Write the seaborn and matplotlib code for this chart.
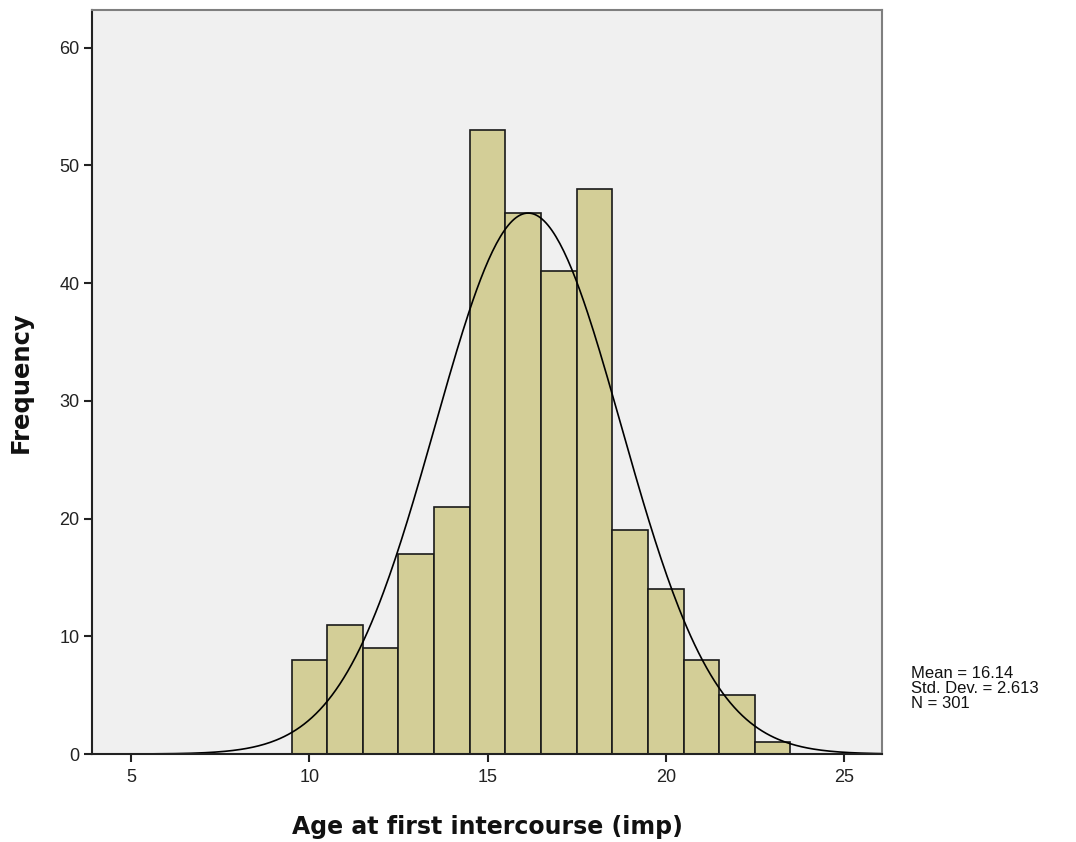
import numpy as np
import pandas as pd
import matplotlib
matplotlib.use("Agg")
import matplotlib.pyplot as plt
import seaborn as sns

ages = [10, 11, 12, 13, 14, 15, 16, 17, 18, 19, 20, 21, 22, 23]
counts = [8, 11, 9, 17, 21, 53, 46, 41, 48, 19, 14, 8, 5, 1]
mean_age = 16.14
sd_age = 2.613
n_total = 301

df = pd.DataFrame({"age": ages, "count": counts})

sns.set_style("white")
plt.rcParams["font.family"] = ["Liberation Sans", "DejaVu Sans"]

fig = plt.figure(figsize=(10.76, 8.42), dpi=100)
ax = fig.add_axes([0.0855, 0.1045, 0.7342, 0.8835])
ax.set_facecolor("#F0F0F0")

sns.histplot(data=df, x="age", weights="count", discrete=True,
             color="#D3CE97", alpha=1, edgecolor="#1a1a1a", linewidth=1.2, ax=ax)

# normal curve scaled to counts (bin width 1)
xs = np.linspace(3.9, 26.1, 400)
pdf = n_total / (sd_age * np.sqrt(2 * np.pi)) * np.exp(-0.5 * ((xs - mean_age) / sd_age) ** 2)
sns.lineplot(x=xs, y=pdf, color="black", linewidth=1.2, ax=ax)

ax.set_xlim(3.9, 26.07)
ax.set_ylim(0, 63.2)
ax.set_xticks([5, 10, 15, 20, 25])
ax.set_yticks([0, 10, 20, 30, 40, 50, 60])
ax.tick_params(axis="both", direction="out", length=6, width=1.5, labelsize=13,
               color="#222222", labelcolor="#222222", bottom=True, left=True)
ax.tick_params(axis="x", pad=5)
ax.tick_params(axis="y", pad=3)

for side in ["left", "bottom"]:
    ax.spines[side].set_color("#222222")
    ax.spines[side].set_linewidth(1.5)
for side in ["top", "right"]:
    ax.spines[side].set_color("#7f7f7f")
    ax.spines[side].set_linewidth(1.5)

ax.set_xlabel("Age at first intercourse (imp)", fontsize=17, fontweight="bold",
              family="DejaVu Sans", labelpad=21, color="#111111")
ax.set_ylabel("Frequency", fontsize=17.5, fontweight="bold",
              family="DejaVu Sans", labelpad=19, color="#111111")

fig.text(0.847, 0.155, f"Mean = {mean_age:.2f}\nStd. Dev. = {sd_age:.3f}\nN = {n_total}",
         fontsize=12, ha="left", va="bottom", linespacing=1.0, color="#111111")

plt.savefig("out.png", dpi=100)
plt.close()
